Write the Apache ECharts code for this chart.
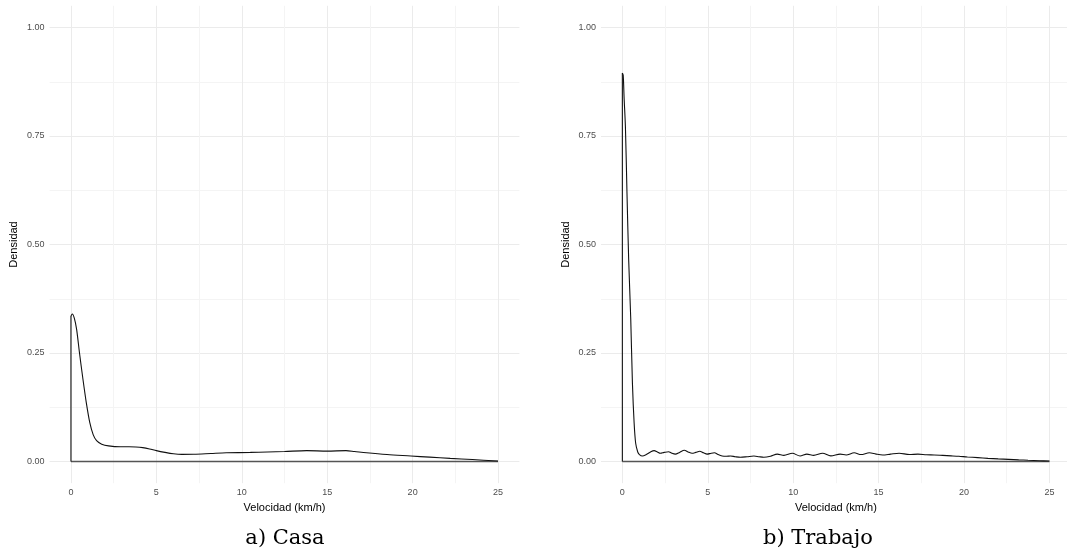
<!DOCTYPE html>
<html>
<head>
<meta charset="utf-8">
<script src="https://cdn.jsdelivr.net/npm/echarts@6/dist/echarts.min.js"></script>
<style>
html,body{margin:0;padding:0;background:#fff;}
#chart{width:1067px;height:553px;}
</style>
</head>
<body>
<div id="chart"></div>
<script>
// ---- data ----
const casaX = [0, 0.08, 0.2, 0.33, 0.5, 0.7, 0.9, 1.1, 1.3, 1.5, 1.8, 2.2, 2.9, 3.4, 3.8, 4.2, 4.6, 5.0, 5.5, 6.0, 6.5, 7.2, 8.2, 9.1, 10.5, 11.5, 12.5, 13.8, 15, 16.1, 16.6, 17.3, 18.5, 19.9, 21, 22.2, 23.5, 25];
const casaY = [0.335, 0.34, 0.33, 0.305, 0.25, 0.19, 0.135, 0.09, 0.062, 0.048, 0.04, 0.036, 0.034, 0.034, 0.0335, 0.032, 0.029, 0.025, 0.021, 0.0178, 0.0165, 0.0168, 0.0185, 0.020, 0.021, 0.022, 0.023, 0.025, 0.024, 0.025, 0.023, 0.020, 0.016, 0.0127, 0.010, 0.0073, 0.0045, 0.001];

const trabajoX = [0, 0.05, 0.1, 0.18, 0.27, 0.37, 0.49, 0.59, 0.69, 0.78, 0.9, 1.0, 1.17, 1.4, 1.65, 1.86, 2.05, 2.22, 2.45, 2.7, 2.9, 3.1, 3.35, 3.63, 3.85, 4.08, 4.3, 4.53, 4.75, 4.96, 5.2, 5.39, 5.6, 5.84, 6.1, 6.33, 6.6, 6.91, 7.3, 7.7, 8.0, 8.28, 8.67, 9.07, 9.46, 9.95, 10.4, 10.8, 11.2, 11.72, 12.2, 12.75, 13.1, 13.57, 13.97, 14.46, 14.85, 15.24, 15.7, 16.2, 16.8, 17.3, 17.8, 18.25, 18.75, 19.25, 19.7, 20.2, 20.8, 21.4, 22.0, 22.6, 23.2, 23.75, 24.4, 25];
const trabajoY = [0.895, 0.89, 0.84, 0.77, 0.62, 0.465, 0.33, 0.18, 0.088, 0.042, 0.022, 0.016, 0.0127, 0.016, 0.022, 0.025, 0.022, 0.019, 0.021, 0.0226, 0.019, 0.017, 0.021, 0.026, 0.022, 0.019, 0.021, 0.0235, 0.020, 0.017, 0.019, 0.020, 0.016, 0.0127, 0.012, 0.0127, 0.011, 0.0097, 0.011, 0.0127, 0.011, 0.0097, 0.012, 0.017, 0.014, 0.019, 0.0127, 0.017, 0.014, 0.019, 0.013, 0.017, 0.015, 0.020, 0.016, 0.020, 0.017, 0.015, 0.017, 0.019, 0.016, 0.017, 0.0155, 0.015, 0.014, 0.013, 0.012, 0.0104, 0.009, 0.0073, 0.006, 0.005, 0.0038, 0.0028, 0.0018, 0.001];

const xTickLabels = ['0', '5', '10', '15', '20', '25'];
const yTickLabels = ['0.00', '0.25', '0.50', '0.75', '1.00'];
const xTitle = 'Velocidad (km/h)';
const yTitle = 'Densidad';
const captions = ['a) Casa', 'b) Trabajo'];

// ---- chart ----
const chart = echarts.init(document.getElementById('chart'), null, {renderer: 'canvas'});
const NONE = 'rgba(0,0,0,0)';
const MAJ = '#ebebeb';
const MIN = '#f4f4f4';

function near(v, step) { return Math.abs(v / step - Math.round(v / step)) < 1e-6; }

function xAxisFor(gi) {
  return {
    gridIndex: gi, type: 'value', min: -1.25, max: 26.25, interval: 1.25,
    name: xTitle, nameLocation: 'middle', nameGap: 18,
    nameTextStyle: {fontFamily: 'Liberation Sans', fontSize: 11, color: '#000'},
    axisLine: {show: false}, axisTick: {show: false},
    axisLabel: {
      margin: 5, fontFamily: 'Liberation Sans', fontSize: 9, color: '#4d4d4d',
      formatter: v => (near(v, 5) && v >= 0 && v <= 25) ? xTickLabels[Math.round(v / 5)] : ''
    },
    splitLine: {show: true, lineStyle: {width: 1, color: [NONE, MAJ, NONE, MIN]}}
  };
}
function yAxisFor(gi) {
  return {
    gridIndex: gi, type: 'value', min: -0.05, max: 1.05, interval: 0.025,
    name: yTitle, nameLocation: 'middle', nameGap: 30, nameRotate: 90,
    nameTextStyle: {fontFamily: 'Liberation Sans', fontSize: 11, color: '#000'},
    axisLine: {show: false}, axisTick: {show: false},
    axisLabel: {
      margin: 5, fontFamily: 'Liberation Sans', fontSize: 9, color: '#4d4d4d',
      formatter: v => (near(v, 0.25) && v > -0.01 && v < 1.01) ? yTickLabels[Math.round(v / 0.25)] : ''
    },
    splitLine: {show: true, lineStyle: {width: 1, color: [NONE, NONE, MAJ, NONE, NONE, NONE, NONE, MIN, NONE, NONE]}}
  };
}

function seriesFor(gi, xs, ys) {
  const n = xs.length;
  const curve = xs.map((x, i) => [x, ys[i]]);
  return [
    {type: 'line', xAxisIndex: gi, yAxisIndex: gi, data: [[xs[0], 0], [xs[n - 1], 0], [xs[n - 1], ys[n - 1]]],
     symbol: 'none', silent: true, lineStyle: {color: '#555', width: 1.4}},
    {type: 'line', xAxisIndex: gi, yAxisIndex: gi, data: [[xs[0], 0], [xs[0], ys[0]]],
     symbol: 'none', silent: true, lineStyle: {color: '#111', width: 1.1}},
    {type: 'line', xAxisIndex: gi, yAxisIndex: gi, data: curve, smooth: 0.3,
     symbol: 'none', silent: true, lineStyle: {color: '#111', width: 1.1}}
  ];
}

chart.setOption({
  animation: false,
  backgroundColor: '#fff',
  grid: [
    {left: 49.6, top: 5.8, width: 469.8, height: 477.4, outerBoundsMode: 'none', containLabel: false},
    {left: 601, top: 5.8, width: 469.8, height: 477.4, outerBoundsMode: 'none', containLabel: false}
  ],
  xAxis: [xAxisFor(0), xAxisFor(1)],
  yAxis: [yAxisFor(0), yAxisFor(1)],
  series: [...seriesFor(0, casaX, casaY), ...seriesFor(1, trabajoX, trabajoY)],
  graphic: [
    {type: 'text', style: {x: 285, y: 539, text: captions[0], fontFamily: 'DejaVu Serif', fontSize: 21, fill: '#000', textAlign: 'center', textVerticalAlign: 'middle'}},
    {type: 'text', style: {x: 818, y: 539, text: captions[1], fontFamily: 'DejaVu Serif', fontSize: 21, fill: '#000', textAlign: 'center', textVerticalAlign: 'middle'}}
  ]
});
</script>
</body>
</html>
